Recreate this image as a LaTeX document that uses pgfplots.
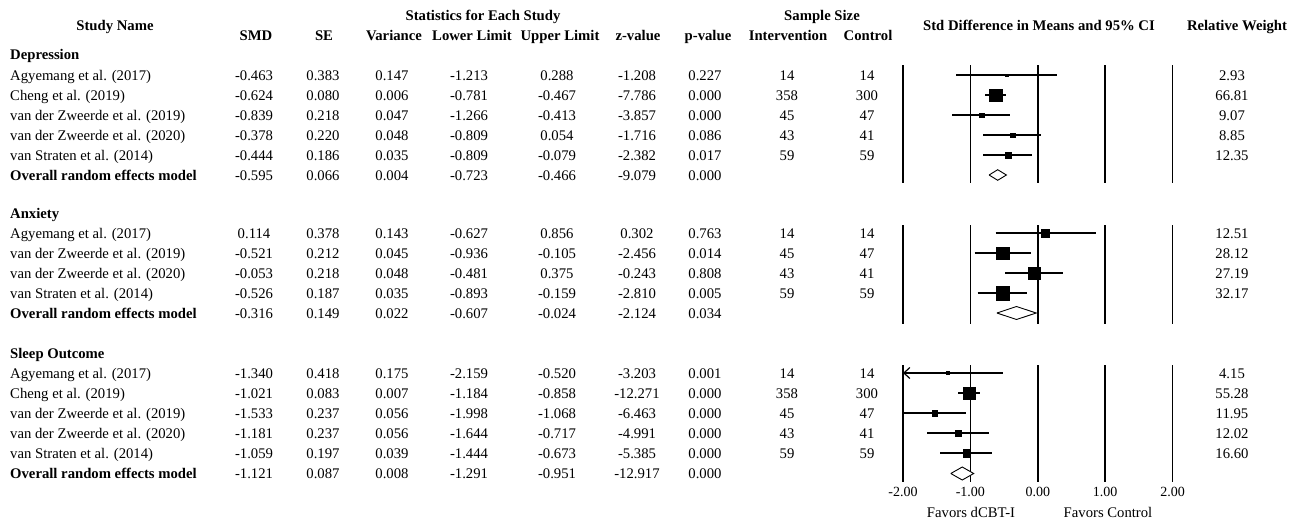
\documentclass[border=0pt]{standalone}
\usepackage{fontspec}
\setmainfont{Liberation Serif}
\usepackage{pgfplots}
\pgfplotsset{compat=1.18}
\usetikzlibrary{arrows.meta}

\newcommand\Row[9]{%
 \node[anchor=base west] at (10pt,-#1pt) {#2};
 \node[anchor=base] at (254pt,-#1pt) {#3};
 \node[anchor=base] at (323pt,-#1pt) {#4};
 \node[anchor=base] at (392pt,-#1pt) {#5};
 \node[anchor=base] at (469pt,-#1pt) {#6};
 \node[anchor=base] at (557pt,-#1pt) {#7};
 \node[anchor=base] at (637pt,-#1pt) {#8};
 \node[anchor=base] at (705pt,-#1pt) {#9};
}
\newcommand\Samp[4]{%
 \node[anchor=base] at (787pt,-#1pt) {#2};
 \node[anchor=base] at (867pt,-#1pt) {#3};
 \node[anchor=base] at (1232pt,-#1pt) {#4};
}
\newcommand\CI[3]{\addplot[black,line width=1.2pt] coordinates {(#1,-#3) (#2,-#3)};}
\newcommand\SQ[3]{\addplot[only marks,mark=square*,mark options={draw=black,fill=black,line width=0.2pt},mark size=#3pt] coordinates {(#1,-#2)};}
\newcommand\DM[5]{\addplot[black,fill=white,line width=0.9pt] coordinates {(#1,-#4) (#2,-#4+#5) (#3,-#4) (#2,-#4-#5) (#1,-#4)};}

\begin{document}
\fontsize{14.7}{17}\selectfont
\begin{tikzpicture}[every node/.style={inner sep=0pt, font=\fontsize{14.7}{17}\selectfont}]
\useasboundingbox (0pt,0pt) rectangle (1294pt,-520pt);

% headers
\begin{scope}[every node/.style={inner sep=0pt, font=\fontsize{14.7}{17}\selectfont\bfseries}]
\node[anchor=base] at (115pt,-30pt) {Study Name};
\node[anchor=base] at (483pt,-20pt) {Statistics for Each Study};
\node[anchor=base] at (822pt,-20pt) {Sample Size};
\node[anchor=base] at (1039pt,-30pt) {Std Difference in Means and 95\% CI};
\node[anchor=base] at (1237pt,-30pt) {Relative Weight};
\node[anchor=base] at (256pt,-40.5pt) {SMD};
\node[anchor=base] at (324pt,-40.5pt) {SE};
\node[anchor=base] at (394pt,-40.5pt) {Variance};
\node[anchor=base] at (472pt,-40.5pt) {Lower Limit};
\node[anchor=base] at (560pt,-40.5pt) {Upper Limit};
\node[anchor=base] at (638pt,-40.5pt) {z-value};
\node[anchor=base] at (708pt,-40.5pt) {p-value};
\node[anchor=base] at (788pt,-40.5pt) {Intervention};
\node[anchor=base] at (868pt,-40.5pt) {Control};
\node[anchor=base west] at (10pt,-59.5pt) {Depression};
\node[anchor=base west] at (10pt,-218pt) {Anxiety};
\node[anchor=base west] at (10pt,-358pt) {Sleep Outcome};
\end{scope}

% Depression
\Row{80}{Agyemang et al. (2017)}{-0.463}{0.383}{0.147}{-1.213}{0.288}{-1.208}{0.227}
\Samp{80}{14}{14}{2.93}
\Row{100}{Cheng et al. (2019)}{-0.624}{0.080}{0.006}{-0.781}{-0.467}{-7.786}{0.000}
\Samp{100}{358}{300}{66.81}
\Row{120}{van der Zweerde et al. (2019)}{-0.839}{0.218}{0.047}{-1.266}{-0.413}{-3.857}{0.000}
\Samp{120}{45}{47}{9.07}
\Row{140}{van der Zweerde et al. (2020)}{-0.378}{0.220}{0.048}{-0.809}{0.054}{-1.716}{0.086}
\Samp{140}{43}{41}{8.85}
\Row{160}{van Straten et al. (2014)}{-0.444}{0.186}{0.035}{-0.809}{-0.079}{-2.382}{0.017}
\Samp{160}{59}{59}{12.35}
\Row{180}{\textbf{Overall random effects model}}{-0.595}{0.066}{0.004}{-0.723}{-0.466}{-9.079}{0.000}

% Anxiety
\Row{238}{Agyemang et al. (2017)}{0.114}{0.378}{0.143}{-0.627}{0.856}{0.302}{0.763}
\Samp{238}{14}{14}{12.51}
\Row{258}{van der Zweerde et al. (2019)}{-0.521}{0.212}{0.045}{-0.936}{-0.105}{-2.456}{0.014}
\Samp{258}{45}{47}{28.12}
\Row{278}{van der Zweerde et al. (2020)}{-0.053}{0.218}{0.048}{-0.481}{0.375}{-0.243}{0.808}
\Samp{278}{43}{41}{27.19}
\Row{298}{van Straten et al. (2014)}{-0.526}{0.187}{0.035}{-0.893}{-0.159}{-2.810}{0.005}
\Samp{298}{59}{59}{32.17}
\Row{318}{\textbf{Overall random effects model}}{-0.316}{0.149}{0.022}{-0.607}{-0.024}{-2.124}{0.034}

% Sleep
\Row{378}{Agyemang et al. (2017)}{-1.340}{0.418}{0.175}{-2.159}{-0.520}{-3.203}{0.001}
\Samp{378}{14}{14}{4.15}
\Row{398}{Cheng et al. (2019)}{-1.021}{0.083}{0.007}{-1.184}{-0.858}{-12.271}{0.000}
\Samp{398}{358}{300}{55.28}
\Row{418}{van der Zweerde et al. (2019)}{-1.533}{0.237}{0.056}{-1.998}{-1.068}{-6.463}{0.000}
\Samp{418}{45}{47}{11.95}
\Row{438}{van der Zweerde et al. (2020)}{-1.181}{0.237}{0.056}{-1.644}{-0.717}{-4.991}{0.000}
\Samp{438}{43}{41}{12.02}
\Row{458}{van Straten et al. (2014)}{-1.059}{0.197}{0.039}{-1.444}{-0.673}{-5.385}{0.000}
\Samp{458}{59}{59}{16.60}
\Row{478}{\textbf{Overall random effects model}}{-1.121}{0.087}{0.008}{-1.291}{-0.951}{-12.917}{0.000}

\node[anchor=base] at (971pt,-517pt) {Favors dCBT-I};
\node[anchor=base] at (1108pt,-517pt) {Favors Control};

\begin{axis}[at={(903pt,0pt)}, anchor=north west, scale only axis,
  width=269.6pt, height=485pt, xmin=-2, xmax=2, ymin=-485, ymax=0,
  clip=false, axis line style={draw=none}, ytick=\empty,
  xtick={-2,-1,0,1,2}, xticklabels={-2.00,-1.00,0.00,1.00,2.00},
  major tick length=0pt,
  xticklabel style={inner sep=0pt, anchor=north, yshift=-1.5pt, font=\fontsize{14}{16}\selectfont}]
\pgfplotsinvokeforeach{-2,-1,0,1,2}{
  \addplot[black,line width=1.5pt] coordinates {(#1,-65) (#1,-183)};
  \addplot[black,line width=1.5pt] coordinates {(#1,-225) (#1,-324)};
  \addplot[black,line width=1.5pt] coordinates {(#1,-365) (#1,-482)};
}
% Depression
\CI{-1.213}{0.288}{75} \SQ{-0.463}{75}{1.3}
\CI{-0.781}{-0.467}{95} \SQ{-0.624}{95}{6.3}
\CI{-1.266}{-0.413}{115} \SQ{-0.839}{115}{2.4}
\CI{-0.809}{0.054}{135} \SQ{-0.378}{135}{2.3}
\CI{-0.809}{-0.079}{155} \SQ{-0.444}{155}{2.9}
\DM{-0.723}{-0.595}{-0.466}{175}{5.3}
% Anxiety
\CI{-0.627}{0.856}{233} \SQ{0.114}{233}{3.9}
\CI{-0.936}{-0.105}{253} \SQ{-0.521}{253}{6.1}
\CI{-0.481}{0.375}{273} \SQ{-0.053}{273}{6.0}
\CI{-0.893}{-0.159}{293} \SQ{-0.526}{293}{6.6}
\DM{-0.607}{-0.316}{-0.024}{313}{6.5}
% Sleep
\addplot[black,line width=1.2pt,-{Straight Barb[length=6pt,width=11pt]}] coordinates {(-0.520,-373) (-2.0,-373)};
\SQ{-1.340}{373}{1.5}
\CI{-1.184}{-0.858}{393} \SQ{-1.021}{393}{6.1}
\CI{-1.998}{-1.068}{413} \SQ{-1.533}{413}{2.7}
\CI{-1.644}{-0.717}{433} \SQ{-1.181}{433}{2.7}
\CI{-1.444}{-0.673}{453} \SQ{-1.059}{453}{3.6}
\DM{-1.291}{-1.121}{-0.951}{473.5}{6.5}
\end{axis}
\end{tikzpicture}
\end{document}
